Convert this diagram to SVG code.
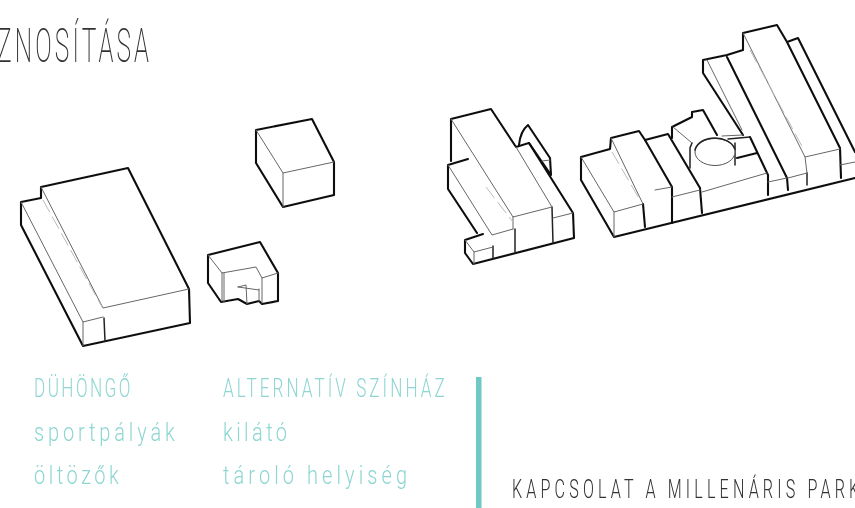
<svg xmlns="http://www.w3.org/2000/svg" width="855" height="508" viewBox="0 0 855 508">
<style>
.k{fill:none;stroke:#111;stroke-width:2.1;stroke-linejoin:round;stroke-linecap:round}
.m{fill:none;stroke:#222;stroke-width:1.5;stroke-linecap:round}
.t{fill:none;stroke:#666;stroke-width:1;stroke-linecap:round}
.d{fill:none;stroke:#bbb;stroke-width:1;stroke-dasharray:14 5}
text{font-family:Roboto,"Liberation Sans",sans-serif;font-weight:100}
.c{fill:#8ed6d2;font-size:25px;font-weight:300}
.u{fill:#8ed6d2;font-size:26px;font-weight:300}
.g{fill:#333;font-size:26px;font-weight:300}
</style>
<defs><filter id="soft" x="-2%" y="-2%" width="104%" height="104%"><feGaussianBlur stdDeviation=".4"/></filter></defs>
<rect width="855" height="508" fill="#fff"/>
<g filter="url(#soft)">
<g id="labels">
<text class="g" transform="translate(-3,62) scale(.5,1)" style="font-size:49px;font-weight:200" textLength="304" lengthAdjust="spacing">ZNOSÍTÁSA</text>
<text class="u" transform="translate(34,397) scale(.66,1)" textLength="146" lengthAdjust="spacing">DÜHÖNGŐ</text>
<text class="c" transform="translate(34,441) scale(.8,1)" textLength="176" lengthAdjust="spacing">sportpályák</text>
<text class="c" transform="translate(34,484) scale(.8,1)" textLength="106" lengthAdjust="spacing">öltözők</text>
<text class="u" transform="translate(223,397) scale(.66,1)" textLength="336" lengthAdjust="spacing">ALTERNATÍV SZÍNHÁZ</text>
<text class="c" transform="translate(223,441) scale(.8,1)" textLength="80" lengthAdjust="spacing">kilátó</text>
<text class="c" transform="translate(223,484) scale(.8,1)" textLength="230" lengthAdjust="spacing">tároló helyiség</text>
<text class="g" transform="translate(512,498) scale(.62,1)" textLength="560" lengthAdjust="spacing">KAPCSOLAT A MILLENÁRIS PARK</text>
</g>
<rect id="divider" x="476" y="377" width="5.5" height="131" fill="#6fc8c4"/>
<g id="building-sport">
<path class="k" d="M21 202L41 198L41 187L128 168L189 289L190 323L83 346L21 225Z"/>
<path class="m" d="M104 318L105 341"/>
<path class="t" d="M21 202L83 322L103 317M41 187L103 308L189 289M83 322L83 346"/>
<path class="d" d="M43 200L102 307"/>
</g>
<g id="building-cube">
<path class="k" d="M256 130L312 119L334 162L334 195L283 207L256 163Z"/>
<path class="t" d="M256 130L283 173L334 162M283 173L283 207"/>
</g>
<g id="building-small">
<path class="k" d="M208 255L260 242L278 273L278 301L262 304L259 301L247 304L238 299L221 302L208 283Z"/>
<path class="t" d="M208 255L222 273L256 267L262 278L278 273M224 273L224 302M222 273L222 301M262 278L262 303M238 287L246 285L247 304M238 287L259 290M259 289L259 301"/>
</g>
<g id="building-theatre">
<path class="k" d="M451 119L491 109L516 147L529 143L573 213L574 238L473 264L465 253L465 240L483 234M477 233L448 189L448 165L468 159M451 161L451 119"/>
<path class="k" d="M519 145C520 135 523 129 528 125L550 158L551 175M529 143L551 175"/>
<path class="m" d="M552 207L553 243M515 229L515 253M493 246L493 258"/>
<path class="t" d="M451 119L513 217L552 207M516 147L552 207M448 165L492 235L513 229M465 240L474 252L493 247M474 252L474 264M553 218L573 213M542 161L550 160M513 217L513 229"/>
<path class="d" d="M486 187L513 222"/>
</g>
<g id="building-east">
<path class="k" d="M581 157L610 149L611 138L639 131L645 140L668 134L700 188L702 213"/>
<path class="k" d="M581 157L581 180L614 237L855 178"/>
<path class="k" d="M672 138L672 127L692 117L692 112L703 110L717 135M672 187L672 223M643 204L645 227"/>
<path class="k" d="M645 140L672 187"/>
<path class="k" d="M703 73L703 60L727 55L743 50L743 33L777 25L787 42L798 38L855 152M703 73L743 135M727 57L787 178L788 190M787 42L840 148L841 178M750 137L768 175L768 195M737 158L757 153"/>
<path class="m" d="M807 173L807 185M692 143L690 148L690 168M735 143L735 165M728 139L750 137"/>
<path class="t" d="M581 157L614 212L643 204L611 138M614 212L614 237M655 190L672 187M672 197L700 190M702 192L767 173M768 182L787 178M788 178L807 173M743 33L805 157L840 149M805 157L807 173M840 165L855 162M707 60L742 130M673 127L692 143M722 136L743 135"/>
<path class="d" d="M612 152L640 200M750 50L804 150"/>
<ellipse cx="715" cy="152" rx="20" ry="13.500" fill="#fff" stroke="#555" stroke-width="1"/>
<path class="m" d="M695 150C697 142 706 138 715 138C724 138 732 142 735 149"/>
</g>
</g>
</svg>
